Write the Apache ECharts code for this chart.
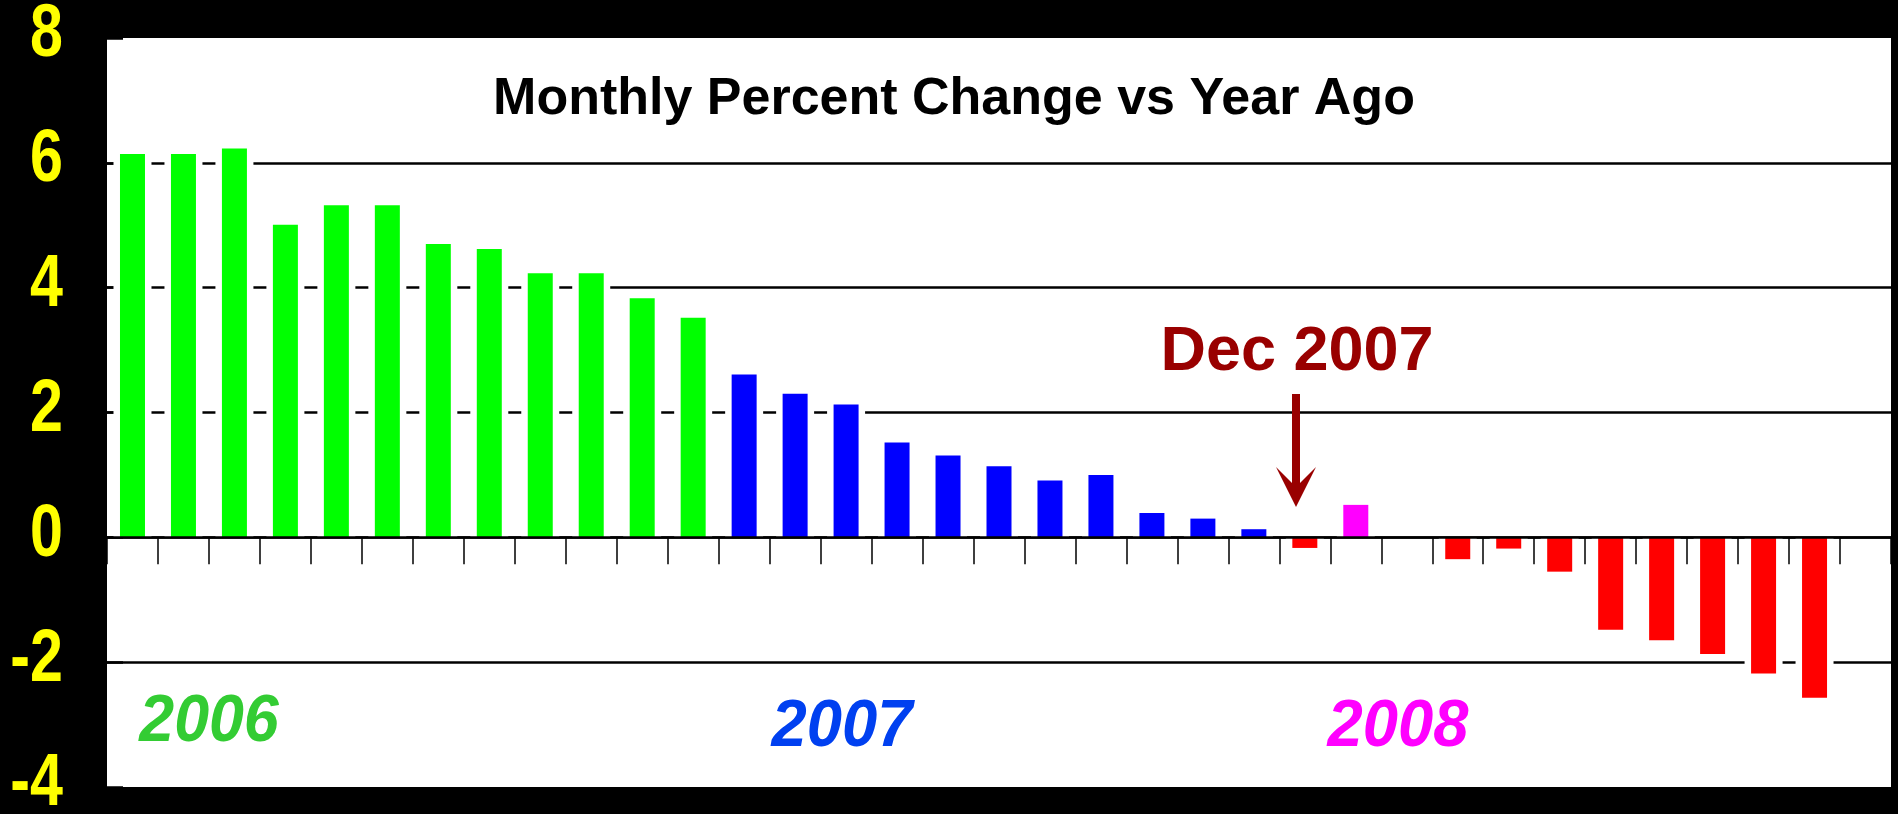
<!DOCTYPE html>
<html>
<head>
<meta charset="utf-8">
<script src="https://cdn.jsdelivr.net/npm/echarts@6/dist/echarts.min.js"></script>
<style>
html, body { margin: 0; padding: 0; background: #000; }
#chart { width: 1898px; height: 814px; }
</style>
</head>
<body>
<div id="chart"></div>
<script>
// monthly % change vs year ago
const months = ['Jan', 'Feb', 'Mar', 'Apr', 'May', 'Jun', 'Jul', 'Aug', 'Sep', 'Oct', 'Nov', 'Dec']
const years = ['2006', '2007', '2008']
const values2006 = [6.14, 6.14, 6.23, 5.01, 5.32, 5.32, 4.70, 4.62, 4.23, 4.23, 3.83, 3.52]
const values2007 = [2.61, 2.30, 2.13, 1.52, 1.31, 1.14, 0.91, 1.00, 0.39, 0.30, 0.13, -0.17]
const values2008 = [0.52, null, -0.35, -0.18, -0.55, -1.48, -1.65, -1.87, -2.18, -2.57, null]
const yTicks = [-4, -2, 0, 2, 4, 6, 8]

const barColors = { '2006': '#00ff00', '2007': '#0000ff', '2008': '#ff00ff', neg: '#ff0000' }
const yearColors = { '2006': '#33cc33', '2007': '#0040f0', '2008': '#ff00ff' }

const categories = []
const barData = []
const haloData = []
const byYear = { '2006': values2006, '2007': values2007, '2008': values2008 }
years.forEach(y => {
  byYear[y].forEach((v, i) => {
    categories.push(months[i] + ' ' + y)
    const color = v !== null && v < 0 ? barColors.neg : barColors[y]
    barData.push({ value: v, itemStyle: { color: color } })
    haloData.push(v)
  })
})

const chart = echarts.init(document.getElementById('chart'))

function label(text, x, y, font, color, align, sx) {
  return {
    type: 'text',
    x: x,
    y: y,
    z: 10,
    scaleX: sx || 1,
    style: {
      text: text,
      font: font,
      fill: color,
      textAlign: align || 'center',
      textVerticalAlign: 'middle',
      align: align || 'center',
      verticalAlign: 'middle'
    }
  }
}

const option = {
  backgroundColor: '#000',
  animation: false,
  grid: {
    left: 107,
    right: 7,
    top: 38,
    bottom: 27,
    show: true,
    backgroundColor: '#fff',
    borderWidth: 0
  },
  xAxis: [
    {
      type: 'category',
      data: categories,
      z: 5,
      axisLine: { onZero: true, lineStyle: { color: '#000', width: 2.5 } },
      axisTick: { show: true, interval: 0, length: 27, lineStyle: { color: '#000', width: 1.5 } },
      axisLabel: { show: false, interval: 0 },
      splitLine: { show: false }
    },
    {
      type: 'category',
      data: categories,
      show: false
    }
  ],
  yAxis: {
    type: 'value',
    min: yTicks[0],
    max: yTicks[yTicks.length - 1],
    interval: 2,
    axisLine: { show: false },
    axisTick: { show: true, inside: true, length: 16, lineStyle: { color: '#000', width: 2.5 } },
    // labels are drawn below as narrowed text
    axisLabel: { show: false },
    splitLine: {
      show: true,
      showMinLine: false,
      showMaxLine: false,
      lineStyle: { color: '#000', width: 2.5 }
    }
  },
  series: [
    {
      name: 'halo',
      type: 'bar',
      xAxisIndex: 1,
      barWidth: 38,
      silent: true,
      z: 1,
      itemStyle: { color: '#fff' },
      data: haloData
    },
    {
      name: 'change',
      type: 'bar',
      xAxisIndex: 0,
      barWidth: 25,
      z: 2,
      data: barData
    }
  ]
}

chart.setOption(option)

const yearFont = 'italic bold 66px "Liberation Sans", Arial, sans-serif'
const graphics = [
  label('Monthly Percent Change vs Year Ago', 954, 99.5, 'bold 52px "Liberation Sans", Arial, sans-serif', '#000'),
  label('Dec 2007', 1297, 352.5, 'bold 63px "Liberation Sans", Arial, sans-serif', '#990000'),
  label('2006', 209, 723, yearFont, yearColors['2006'], 'center', 0.95),
  label('2007', 842, 727.5, yearFont, yearColors['2007'], 'center', 0.96),
  label('2008', 1398, 728, yearFont, yearColors['2008'], 'center', 0.96),
  {
    type: 'polygon',
    z: 10,
    shape: {
      points: [[1296, 507], [1276, 467], [1292, 483], [1292, 394], [1300, 394], [1300, 483], [1316, 467]]
    },
    style: { fill: '#990000' }
  }
]

// y tick labels, placed from the value axis
yTicks.forEach(t => {
  const py = chart.convertToPixel({ yAxisIndex: 0 }, t)
  graphics.push(label(String(t), 63, py - 2, 'bold 74px "Liberation Sans", Arial, sans-serif', '#ffff00', 'right', 0.8))
})

chart.setOption({ graphic: graphics })
</script>
</body>
</html>
